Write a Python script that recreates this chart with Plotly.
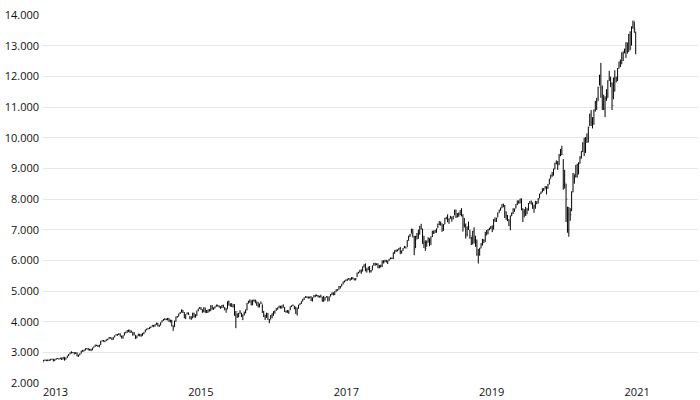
import pandas as pd
import plotly.graph_objects as go

# Weekly NASDAQ-100 values (week ending Friday)
first_open = 2660

close_2013 = [2747, 2757, 2743, 2737, 2753, 2776, 2775, 2757, 2764, 2800, 2794, 2790, 2819, 2775, 2842, 2763, 2818, 2882, 2938, 2990, 2983, 2990, 2993, 2970, 2880, 2910, 2960, 3046, 3034, 3075, 3125, 3119, 3076, 3103, 3074, 3138, 3182, 3238, 3229, 3220, 3237, 3365, 3378, 3368, 3372, 3419, 3430, 3487, 3475, 3410, 3491, 3540]
high_2013 = [2750, 2762, 2750, 2767, 2762, 2782, 2792, 2790, 2770, 2807, 2810, 2800, 2825, 2825, 2850, 2845, 2830, 2890, 2945, 2995, 3033, 3010, 3000, 3000, 3000, 2925, 2965, 3050, 3080, 3085, 3130, 3135, 3140, 3110, 3110, 3150, 3190, 3250, 3240, 3240, 3245, 3370, 3395, 3400, 3385, 3420, 3440, 3495, 3490, 3478, 3500, 3550]
low_2013 = [2700, 2722, 2712, 2710, 2718, 2735, 2763, 2702, 2713, 2755, 2785, 2760, 2780, 2750, 2772, 2730, 2765, 2820, 2878, 2935, 2965, 2975, 2930, 2945, 2870, 2855, 2905, 2960, 3020, 3030, 3060, 3100, 3065, 3060, 3040, 3070, 3150, 3180, 3205, 3175, 3160, 3240, 3355, 3350, 3330, 3370, 3395, 3430, 3450, 3405, 3410, 3495]

close_2014 = [3563, 3580, 3596, 3520, 3521, 3553, 3645, 3654, 3709, 3726, 3642, 3660, 3562, 3567, 3457, 3540, 3560, 3590, 3538, 3616, 3655, 3736, 3765, 3770, 3810, 3835, 3888, 3865, 3905, 3939, 3857, 3883, 3972, 4037, 4082, 4093, 4068, 4113, 4050, 4029, 3855, 3832, 4020, 4158, 4174, 4258, 4304, 4383, 4303, 4121, 4234, 4288]
high_2014 = [3600, 3595, 3625, 3615, 3545, 3555, 3650, 3675, 3725, 3740, 3735, 3710, 3665, 3665, 3560, 3545, 3610, 3600, 3600, 3625, 3660, 3740, 3770, 3790, 3820, 3840, 3890, 3890, 3915, 3970, 3960, 3900, 3975, 4045, 4085, 4110, 4100, 4120, 4115, 4065, 4060, 3880, 4030, 4165, 4185, 4260, 4315, 4395, 4380, 4310, 4240, 4300]
low_2014 = [3555, 3540, 3565, 3515, 3450, 3445, 3555, 3620, 3640, 3660, 3630, 3650, 3545, 3560, 3440, 3460, 3540, 3520, 3510, 3540, 3590, 3660, 3720, 3750, 3760, 3790, 3840, 3820, 3840, 3900, 3850, 3830, 3880, 3975, 4030, 4050, 4050, 4040, 3990, 3970, 3850, 3700, 3830, 4000, 4130, 4170, 4250, 4300, 4280, 4115, 4080, 4240]

close_2015 = [4231, 4156, 4122, 4281, 4151, 4188, 4352, 4423, 4442, 4394, 4321, 4458, 4313, 4300, 4390, 4342, 4525, 4460, 4449, 4489, 4546, 4509, 4475, 4465, 4525, 4468, 4444, 4398, 4654, 4534, 4588, 4501, 4558, 4197, 4322, 4145, 4276, 4277, 4184, 4229, 4289, 4389, 4604, 4649, 4712, 4541, 4705, 4689, 4680, 4528, 4469, 4575]
high_2015 = [4300, 4190, 4170, 4290, 4290, 4245, 4360, 4425, 4475, 4475, 4400, 4470, 4455, 4380, 4395, 4415, 4535, 4535, 4460, 4500, 4555, 4550, 4530, 4500, 4545, 4555, 4470, 4440, 4660, 4690, 4595, 4600, 4565, 4570, 4345, 4270, 4285, 4375, 4290, 4235, 4330, 4395, 4610, 4680, 4720, 4700, 4710, 4720, 4720, 4660, 4640, 4590]
low_2015 = [4225, 4080, 4060, 4110, 4140, 4130, 4190, 4345, 4420, 4380, 4290, 4310, 4290, 4280, 4290, 4330, 4350, 4390, 4385, 4430, 4490, 4495, 4460, 4420, 4440, 4460, 4370, 4290, 4420, 4530, 4490, 4480, 4460, 4195, 3787, 4125, 4150, 4260, 4150, 4050, 4200, 4270, 4370, 4590, 4620, 4535, 4540, 4650, 4600, 4520, 4465, 4470]

close_2016 = [4593, 4300, 4175, 4200, 4280, 4077, 4053, 4200, 4263, 4329, 4358, 4432, 4452, 4509, 4437, 4517, 4465, 4341, 4339, 4302, 4362, 4498, 4519, 4519, 4423, 4264, 4452, 4544, 4590, 4664, 4730, 4784, 4816, 4803, 4784, 4808, 4681, 4782, 4840, 4875, 4850, 4801, 4814, 4805, 4661, 4701, 4788, 4819, 4676, 4817, 4880, 4943, 4864]
high_2016 = [4660, 4565, 4350, 4230, 4290, 4280, 4090, 4215, 4270, 4340, 4365, 4440, 4460, 4520, 4515, 4525, 4565, 4475, 4360, 4380, 4370, 4500, 4530, 4560, 4510, 4490, 4455, 4550, 4600, 4670, 4740, 4790, 4830, 4820, 4820, 4815, 4830, 4790, 4865, 4880, 4880, 4870, 4845, 4880, 4810, 4840, 4800, 4830, 4825, 4820, 4900, 4955, 4955]
low_2016 = [4580, 4290, 4150, 4055, 4125, 4060, 3947, 4070, 4110, 4190, 4260, 4355, 4390, 4440, 4430, 4430, 4460, 4320, 4290, 4290, 4255, 4380, 4480, 4510, 4405, 4255, 4200, 4420, 4540, 4580, 4660, 4710, 4780, 4770, 4750, 4760, 4675, 4660, 4790, 4800, 4830, 4790, 4790, 4790, 4650, 4650, 4690, 4790, 4660, 4680, 4820, 4870, 4860]

close_2017 = [4985, 5047, 5034, 5151, 5150, 5222, 5300, 5325, 5358, 5396, 5402, 5376, 5436, 5403, 5354, 5409, 5584, 5620, 5682, 5633, 5788, 5857, 5742, 5690, 5783, 5647, 5668, 5827, 5903, 5877, 5884, 5783, 5780, 5817, 5987, 5920, 6010, 5933, 5980, 6041, 6076, 6061, 6250, 6320, 6340, 6332, 6389, 6290, 6312, 6395, 6439, 6397]
high_2017 = [4990, 5055, 5055, 5160, 5160, 5230, 5310, 5340, 5375, 5400, 5420, 5420, 5450, 5450, 5410, 5420, 5600, 5625, 5690, 5700, 5795, 5865, 5900, 5740, 5790, 5810, 5690, 5830, 5910, 5920, 5900, 5900, 5850, 5860, 5995, 6000, 6015, 6010, 5990, 6050, 6090, 6090, 6260, 6325, 6350, 6350, 6400, 6440, 6320, 6400, 6470, 6445]
low_2017 = [4870, 4970, 5010, 5040, 5080, 5150, 5220, 5280, 5320, 5330, 5370, 5330, 5370, 5380, 5350, 5350, 5450, 5570, 5600, 5560, 5640, 5770, 5640, 5600, 5680, 5600, 5600, 5680, 5830, 5820, 5840, 5740, 5740, 5770, 5780, 5900, 5940, 5930, 5880, 5980, 6040, 6040, 6040, 6210, 6270, 6290, 6330, 6200, 6220, 6310, 6400, 6390]

close_2018 = [6653, 6792, 6834, 7022, 6761, 6365, 6778, 6880, 6849, 7115, 7038, 6550, 6581, 6384, 6577, 6720, 6664, 6770, 6957, 6883, 6979, 7032, 7157, 7256, 7199, 7040, 7168, 7376, 7377, 7320, 7356, 7419, 7344, 7440, 7642, 7421, 7525, 7497, 7627, 7475, 7152, 7135, 6845, 7029, 7089, 6804, 6527, 6949, 6661, 6580, 6193, 6334]
high_2018 = [6660, 6800, 6860, 7030, 7020, 6800, 6800, 6890, 7000, 7120, 7190, 7030, 6800, 6650, 6650, 6750, 6720, 6780, 6960, 6970, 6990, 7040, 7200, 7280, 7260, 7200, 7180, 7380, 7420, 7500, 7370, 7450, 7420, 7450, 7650, 7650, 7540, 7560, 7640, 7700, 7500, 7380, 7200, 7110, 7260, 7000, 6770, 6960, 7080, 6800, 6680, 6370]
low_2018 = [6430, 6640, 6760, 6870, 6750, 6165, 6400, 6680, 6700, 6840, 7000, 6540, 6400, 6310, 6440, 6580, 6460, 6500, 6760, 6860, 6890, 6900, 7050, 7150, 7130, 6930, 6960, 7180, 7340, 7240, 7190, 7360, 7260, 7340, 7470, 7380, 7400, 7420, 7470, 7430, 6940, 7070, 6710, 6780, 6990, 6700, 6500, 6520, 6550, 6440, 6150, 5896]

close_2019 = [6391, 6535, 6683, 6660, 6806, 6891, 7006, 7053, 7087, 6995, 7326, 7275, 7378, 7544, 7640, 7708, 7825, 7787, 7544, 7460, 7314, 7127, 7453, 7523, 7654, 7672, 7825, 7942, 7865, 8003, 7659, 7567, 7580, 7468, 7663, 7852, 7906, 7829, 7700, 7793, 7859, 7851, 8002, 8167, 8227, 8347, 8313, 8403, 8380, 8476, 8652, 8778]
high_2019 = [6410, 6560, 6700, 6680, 6930, 6990, 7020, 7060, 7120, 7140, 7340, 7400, 7390, 7560, 7650, 7720, 7830, 7850, 7800, 7600, 7480, 7340, 7460, 7560, 7700, 7690, 7830, 7950, 7950, 8010, 8020, 7700, 7670, 7740, 7700, 7870, 7930, 7950, 7890, 7810, 7940, 7930, 8030, 8170, 8240, 8350, 8360, 8420, 8410, 8490, 8660, 8790]
low_2019 = [6150, 6390, 6480, 6560, 6600, 6820, 6850, 6980, 7020, 6920, 7010, 7260, 7250, 7400, 7550, 7620, 7700, 7730, 7380, 7320, 7280, 7120, 6980, 7440, 7510, 7580, 7690, 7800, 7850, 7860, 7630, 7250, 7400, 7450, 7500, 7620, 7850, 7820, 7680, 7550, 7680, 7830, 7860, 8020, 8160, 8220, 8260, 8330, 8150, 8330, 8480, 8660]

close_2020 = [8793, 8972, 9174, 9166, 9150, 9402, 9623, 9447, 8462, 8531, 7995, 6994, 7502, 7487, 8230, 8833, 8784, 8718, 9121, 9152, 9325, 9555, 9824, 9588, 9947, 9849, 10341, 10768, 10503, 10462, 10906, 11140, 11178, 11647, 12035, 11623, 11080, 10938, 11277, 11288, 11853, 11907, 11768, 11052, 11939, 11937, 11854, 12258, 12464, 12378, 12755, 12805]
high_2020 = [8880, 8990, 9180, 9260, 9240, 9470, 9630, 9736, 9300, 8950, 8500, 7750, 7740, 7700, 8250, 8850, 8800, 9110, 9150, 9200, 9400, 9560, 9850, 10000, 10020, 10140, 10360, 10780, 10900, 10670, 10920, 11200, 11300, 11660, 12050, 12439, 11700, 11400, 11350, 11580, 11870, 12180, 11990, 11800, 11960, 12200, 11990, 12270, 12480, 12550, 12780, 12810]
low_2020 = [8720, 8760, 8970, 9130, 8950, 9100, 9400, 9430, 8300, 8340, 7250, 6900, 6771, 7290, 7600, 8220, 8500, 8700, 8700, 8800, 9150, 9320, 9530, 9400, 9500, 9830, 9850, 10380, 10380, 10300, 10420, 10850, 10900, 11200, 11700, 11300, 10900, 10900, 10670, 11200, 11300, 11850, 11650, 10900, 11250, 11500, 11800, 11850, 12250, 12300, 12400, 12500]

close_2021 = [12888, 13105, 12804, 13366, 12925, 13612, 13807, 13535, 12909]
high_2021 = [12900, 13110, 13100, 13380, 13470, 13630, 13815, 13780, 13460]
low_2021 = [12750, 12600, 12740, 12800, 12850, 13000, 13550, 13420, 12720]

close = close_2013 + close_2014 + close_2015 + close_2016 + close_2017 + close_2018 + close_2019 + close_2020 + close_2021
high = high_2013 + high_2014 + high_2015 + high_2016 + high_2017 + high_2018 + high_2019 + high_2020 + high_2021
low = low_2013 + low_2014 + low_2015 + low_2016 + low_2017 + low_2018 + low_2019 + low_2020 + low_2021
opens = [first_open] + close[:-1]
dates = pd.date_range("2013-01-04", periods=len(close), freq="W-FRI")

fig = go.Figure(go.Ohlc(
    x=dates, open=opens, high=high, low=low, close=close,
    increasing=dict(line=dict(color="#000000", width=1)),
    decreasing=dict(line=dict(color="#000000", width=1)),
    tickwidth=0.2, showlegend=False,
))

fig.update_layout(
    width=700, height=400,
    margin=dict(l=43, r=2, t=15, b=17),
    paper_bgcolor="white", plot_bgcolor="white",
    separators=",.",
    font=dict(family="Open Sans, sans-serif", size=11, color="#111111"),
    xaxis=dict(
        type="date", range=["2013-01-01", "2022-01-05"],
        tick0="2013-01-01", dtick="M24", tickformat="%Y",
        showgrid=False, zeroline=False, showline=False, ticks="",
        ticklabelposition="outside right", ticklabelshift=0,
        ticklabelstandoff=1,
        automargin=False,
        rangeslider=dict(visible=False),
    ),
    yaxis=dict(
        range=[2000, 14000], dtick=1000, tickformat=",.0f",
        showgrid=True, gridcolor="#e6e6e6", gridwidth=1,
        zeroline=False, showline=False, ticks="",
        automargin=False, ticklabelstandoff=3,
    ),
)

fig.write_html(
    "out.html",
    config={"displayModeBar": False},
    post_script="document.body.style.margin='0px';document.body.style.overflow='hidden';",
)
